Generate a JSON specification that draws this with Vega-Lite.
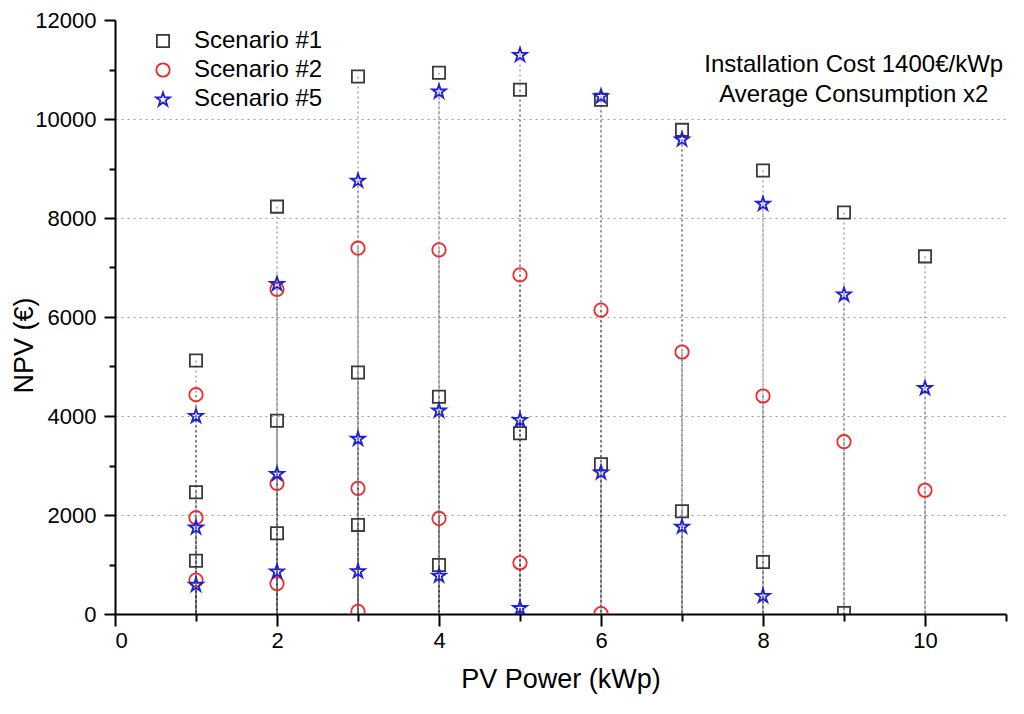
{
  "$schema": "https://vega.github.io/schema/vega-lite/v6.json",
  "description": "NPV versus PV power for three scenarios",
  "width": 891,
  "height": 594,
  "autosize": "none",
  "padding": {"left": 115, "top": 20, "right": 18, "bottom": 100},
  "background": "white",
  "config": {
    "view": {"stroke": null},
    "font": "Liberation Sans",
    "axis": {
      "domainColor": "black",
      "domainWidth": 2,
      "tickColor": "black",
      "tickWidth": 2,
      "labelColor": "black",
      "labelFont": "Liberation Sans",
      "labelFontSize": 22,
      "titleFont": "Liberation Sans",
      "titleFontSize": 27,
      "titleFontWeight": "normal",
      "titleColor": "black"
    }
  },
  "data": {
    "values": [
      {"pv": 1, "npv": 5120, "scenario": "Scenario #1"},
      {"pv": 1, "npv": 2460, "scenario": "Scenario #1"},
      {"pv": 1, "npv": 1075, "scenario": "Scenario #1"},
      {"pv": 2, "npv": 8230, "scenario": "Scenario #1"},
      {"pv": 2, "npv": 3905, "scenario": "Scenario #1"},
      {"pv": 2, "npv": 1630, "scenario": "Scenario #1"},
      {"pv": 3, "npv": 10860, "scenario": "Scenario #1"},
      {"pv": 3, "npv": 4880, "scenario": "Scenario #1"},
      {"pv": 3, "npv": 1800, "scenario": "Scenario #1"},
      {"pv": 4, "npv": 10935, "scenario": "Scenario #1"},
      {"pv": 4, "npv": 4390, "scenario": "Scenario #1"},
      {"pv": 4, "npv": 990, "scenario": "Scenario #1"},
      {"pv": 5, "npv": 10590, "scenario": "Scenario #1"},
      {"pv": 5, "npv": 3650, "scenario": "Scenario #1"},
      {"pv": 6, "npv": 10390, "scenario": "Scenario #1"},
      {"pv": 6, "npv": 3025, "scenario": "Scenario #1"},
      {"pv": 7, "npv": 9780, "scenario": "Scenario #1"},
      {"pv": 7, "npv": 2075, "scenario": "Scenario #1"},
      {"pv": 8, "npv": 8960, "scenario": "Scenario #1"},
      {"pv": 8, "npv": 1050, "scenario": "Scenario #1"},
      {"pv": 9, "npv": 8110, "scenario": "Scenario #1"},
      {"pv": 9, "npv": 20, "scenario": "Scenario #1"},
      {"pv": 10, "npv": 7225, "scenario": "Scenario #1"},
      {"pv": 1, "npv": 4430, "scenario": "Scenario #2"},
      {"pv": 1, "npv": 1945, "scenario": "Scenario #2"},
      {"pv": 1, "npv": 685, "scenario": "Scenario #2"},
      {"pv": 2, "npv": 6560, "scenario": "Scenario #2"},
      {"pv": 2, "npv": 2640, "scenario": "Scenario #2"},
      {"pv": 2, "npv": 615, "scenario": "Scenario #2"},
      {"pv": 3, "npv": 7390, "scenario": "Scenario #2"},
      {"pv": 3, "npv": 2540, "scenario": "Scenario #2"},
      {"pv": 3, "npv": 55, "scenario": "Scenario #2"},
      {"pv": 4, "npv": 7355, "scenario": "Scenario #2"},
      {"pv": 4, "npv": 1930, "scenario": "Scenario #2"},
      {"pv": 5, "npv": 6850, "scenario": "Scenario #2"},
      {"pv": 5, "npv": 1035, "scenario": "Scenario #2"},
      {"pv": 6, "npv": 6140, "scenario": "Scenario #2"},
      {"pv": 6, "npv": 10, "scenario": "Scenario #2"},
      {"pv": 7, "npv": 5293, "scenario": "Scenario #2"},
      {"pv": 8, "npv": 4404, "scenario": "Scenario #2"},
      {"pv": 9, "npv": 3481, "scenario": "Scenario #2"},
      {"pv": 10, "npv": 2500, "scenario": "Scenario #2"},
      {"pv": 1, "npv": 4010, "scenario": "Scenario #5"},
      {"pv": 1, "npv": 1760, "scenario": "Scenario #5"},
      {"pv": 1, "npv": 600, "scenario": "Scenario #5"},
      {"pv": 2, "npv": 6680, "scenario": "Scenario #5"},
      {"pv": 2, "npv": 2840, "scenario": "Scenario #5"},
      {"pv": 2, "npv": 870, "scenario": "Scenario #5"},
      {"pv": 3, "npv": 8765, "scenario": "Scenario #5"},
      {"pv": 3, "npv": 3550, "scenario": "Scenario #5"},
      {"pv": 3, "npv": 875, "scenario": "Scenario #5"},
      {"pv": 4, "npv": 10565, "scenario": "Scenario #5"},
      {"pv": 4, "npv": 4120, "scenario": "Scenario #5"},
      {"pv": 4, "npv": 785, "scenario": "Scenario #5"},
      {"pv": 5, "npv": 11305, "scenario": "Scenario #5"},
      {"pv": 5, "npv": 3930, "scenario": "Scenario #5"},
      {"pv": 5, "npv": 130, "scenario": "Scenario #5"},
      {"pv": 6, "npv": 10470, "scenario": "Scenario #5"},
      {"pv": 6, "npv": 2870, "scenario": "Scenario #5"},
      {"pv": 7, "npv": 9598, "scenario": "Scenario #5"},
      {"pv": 7, "npv": 1775, "scenario": "Scenario #5"},
      {"pv": 8, "npv": 8297, "scenario": "Scenario #5"},
      {"pv": 8, "npv": 375, "scenario": "Scenario #5"},
      {"pv": 9, "npv": 6465, "scenario": "Scenario #5"},
      {"pv": 10, "npv": 4575, "scenario": "Scenario #5"}
    ]
  },
  "encoding": {
    "x": {
      "field": "pv",
      "type": "quantitative",
      "title": "PV Power (kWp)",
      "scale": {"domain": [0, 11], "nice": false},
      "axis": {
        "values": [0, 1, 2, 3, 4, 5, 6, 7, 8, 9, 10, 11],
        "labelExpr": "datum.value % 2 === 0 && datum.value < 11 ? datum.label : ''",
        "tickSize": {"condition": {"test": "datum.value % 2 === 0 && datum.value < 11", "value": 12}, "value": 7},
        "labelPadding": 4,
        "titlePadding": 15,
        "grid": false
      }
    },
    "y": {
      "field": "npv",
      "type": "quantitative",
      "title": "NPV (€)",
      "scale": {"domain": [0, 12000], "nice": false},
      "axis": {
        "values": [0, 1000, 2000, 3000, 4000, 5000, 6000, 7000, 8000, 9000, 10000, 11000, 12000],
        "format": "d",
        "labelExpr": "datum.value % 2000 === 0 ? datum.label : ''",
        "tickSize": {"condition": {"test": "datum.value % 2000 === 0", "value": 11}, "value": 6},
        "labelPadding": 8,
        "titlePadding": -4,
        "titleY": 325,
        "grid": true,
        "gridColor": "#9a9a9a",
        "gridDash": [2, 4],
        "gridWidth": 1,
        "gridOpacity": {"condition": {"test": "datum.value % 2000 === 0 && datum.value > 0 && datum.value < 12000", "value": 1}, "value": 0}
      }
    }
  },
  "layer": [
    {
      "mark": {"type": "rule", "clip": true, "color": "#222222", "strokeDash": [2, 3], "strokeWidth": 1, "opacity": 0.6},
      "encoding": {
        "y2": {"datum": 0}
      }
    },
    {
      "mark": {"type": "point", "filled": false, "clip": true, "strokeWidth": 1.8, "opacity": 1},
      "encoding": {
        "color": {
          "field": "scenario",
          "type": "nominal",
          "scale": {"domain": ["Scenario #1", "Scenario #2", "Scenario #5"], "range": ["#3a3a3a", "#ee2a2a", "#1f1fd8"]},
          "legend": {
            "title": null,
            "orient": "none",
            "legendX": 36,
            "legendY": 9,
            "padding": 0,
            "labelFont": "Liberation Sans",
            "labelFontSize": 24,
            "labelColor": "black",
            "labelOffset": 19,
            "rowPadding": 5,
            "symbolStrokeWidth": 1.8,
            "symbolSize": 200
          }
        },
        "shape": {
          "field": "scenario",
          "type": "nominal",
          "scale": {"domain": ["Scenario #1", "Scenario #2", "Scenario #5"], "range": ["square", "circle", "M0,-0.905L0.2245,-0.2135L0.9511,-0.2135L0.3633,0.2135L0.5878,0.905L0,0.4775L-0.5878,0.905L-0.3633,0.2135L-0.9511,-0.2135L-0.2245,-0.2135Z"]}
        },
        "size": {
          "field": "scenario",
          "type": "nominal",
          "scale": {"domain": ["Scenario #1", "Scenario #2", "Scenario #5"], "range": [150, 210, 380]}
        }
      }
    },
    {
      "transform": [{"filter": "datum.pv === 10 && datum.scenario === 'Scenario #1'"}],
      "mark": {"type": "text", "align": "center", "baseline": "alphabetic", "font": "Liberation Sans", "fontSize": 24, "lineHeight": 30, "color": "black"},
      "encoding": {
        "x": {"datum": 9.12},
        "y": {"datum": 10950},
        "text": {"value": ["Installation Cost 1400€/kWp", "Average Consumption x2"]}
      }
    }
  ]
}
